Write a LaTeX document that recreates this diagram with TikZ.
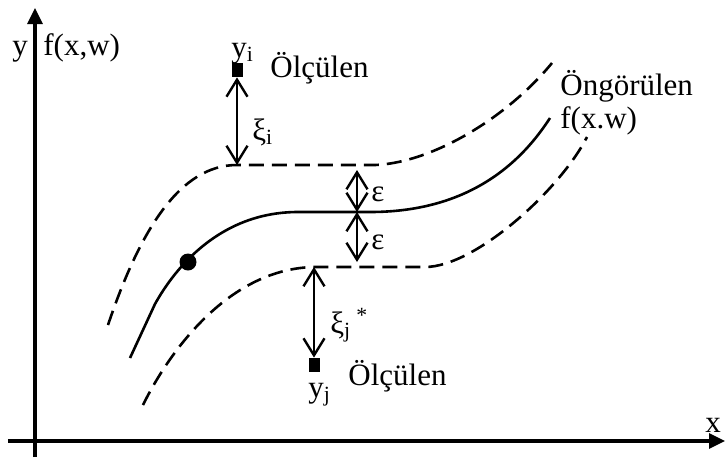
\documentclass[tikz,border=0pt]{standalone}
\usepackage{fontspec}
\setmainfont{Liberation Serif}
\usetikzlibrary{arrows.meta,positioning}

\begin{document}
\begin{tikzpicture}[
  x=0.5pt, y=-0.5pt,
  font=\fontsize{15.5}{18}\selectfont,
  axis/.style={-{Triangle[length=8pt,width=7.5pt]}, line width=1.6pt},
  curve/.style={line width=1.3pt},
  band/.style={curve, dash pattern=on 7.5pt off 4pt},
  dbl/.style={{Straight Barb[length=8.5pt,width=10.5pt]}-{Straight Barb[length=8.5pt,width=10.5pt]}, line width=1.2pt},
  meas/.style={fill=black, minimum width=5.5pt, minimum height=7pt, inner sep=0pt},
  lbl/.style={inner sep=0pt, anchor=base west}
]
  \useasboundingbox (0,0) rectangle (725,457);

  \coordinate (xs) at (8,441);
  \coordinate (xe) at (725,441);
  \coordinate (ys) at (35,457);
  \coordinate (ye) at (35,8);
  \draw[axis] (xs) -- (xe);
  \draw[axis] (ys) -- (ye);
  \node[lbl] (ylab) at (12,55) {y};
  \node[lbl] (flab) at (43,55) {f(x,w)};
  \node[lbl] (xlab) at (705,432) {x};

  \draw[curve] (130,358) -- (155,304) .. controls (175,268) and (220,212) .. (298,212)
    -- (370,212) .. controls (450,212) and (510,180) .. (550,118);
  \draw[band] (108,325) .. controls (140,230) and (180,165) .. (237,165)
    -- (375,165) .. controls (430,163) and (505,120) .. (552,63);
  \draw[band] (143,405) .. controls (170,350) and (230,268) .. (315,267)
    -- (425,267) .. controls (475,267) and (560,190) .. (587,137);
  \node[circle, fill=black, minimum size=8.5pt, inner sep=0pt] (pt) at (188,262) {};

  \node[lbl] (yi) at (231,57) {y\textsubscript{i}};
  \node[meas] (mi) at (237,70) {};
  \node[lbl] (oi) at (270,77) {Ölçülen};
  \coordinate (ci) at (237,165);
  \draw[dbl] (mi) -- (ci);
  \node[lbl] (xii) at (252,140) {ξ\textsubscript{i}};

  \coordinate (eu) at (357,170);
  \coordinate (em) at (357,212);
  \coordinate (el) at (357,262);
  \draw[dbl] (eu) -- (em);
  \draw[dbl] (em) -- (el);
  \node[lbl] (e1) at (371,201) {ε};
  \node[lbl] (e2) at (371,249) {ε};

  \coordinate (cj) at (314,267);
  \node[meas] (mj) at (314,365) {};
  \draw[dbl] (cj) -- (mj);
  \node[lbl] (xij) at (330,333) {ξ\textsubscript{j}\,\textsuperscript{*}};
  \node[lbl] (yj) at (308,397) {y\textsubscript{j}};
  \node[lbl] (oj) at (348,385) {Ölçülen};

  \node[lbl] (pr) at (560,95) {Öngörülen};
  \node[lbl] (prf) at (560,128) {f(x.w)};
\end{tikzpicture}
\end{document}
